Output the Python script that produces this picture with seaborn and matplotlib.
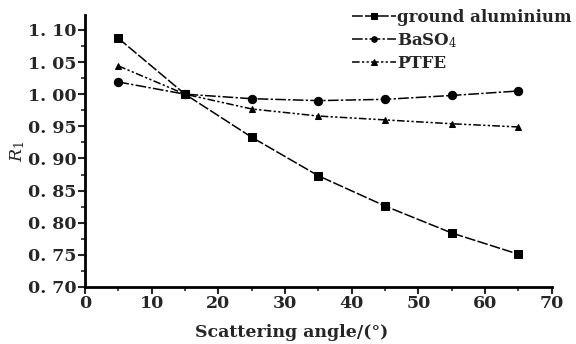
import matplotlib
matplotlib.use("Agg")
import matplotlib.pyplot as plt
import seaborn as sns
import pandas as pd
from matplotlib.ticker import MultipleLocator, FuncFormatter

angles = [5, 15, 25, 35, 45, 55, 65]
aluminium = [1.087, 1.000, 0.933, 0.873, 0.826, 0.784, 0.751]
baso4 = [1.019, 1.000, 0.993, 0.990, 0.992, 0.998, 1.005]
ptfe = [1.044, 1.000, 0.977, 0.966, 0.960, 0.954, 0.949]
series_names = ["ground aluminium", "BaSO$_4$", "PTFE"]

sns.set_theme(style="ticks")
plt.rcParams["font.family"] = ["DejaVu Serif"]
plt.rcParams["mathtext.fontset"] = "dejavuserif"

fig = plt.figure(figsize=(5.76, 3.44), dpi=100)
ax = fig.add_axes([0.1476, 0.1657, 0.958 - 0.1476, 0.956 - 0.1657])

styles = [
    dict(marker="s", ms=6, dashes=(7, 1.5)),
    dict(marker="o", ms=6, dashes=(7, 1.5, 1.5, 1.5)),
    dict(marker="^", ms=5, dashes=(5, 1.5, 1.5, 1.5, 1.5, 1.5)),
]
for name, vals, st in zip(series_names, [aluminium, baso4, ptfe], styles):
    df = pd.DataFrame({"angle": angles, "R": vals})
    sns.lineplot(data=df, x="angle", y="R", ax=ax, color="black", lw=1.1,
                 marker=st["marker"], markersize=st["ms"], markeredgecolor="black",
                 label=name, legend=False)
    ax.lines[-1].set_dashes(st["dashes"])

ax.set_xlim(0, 70)
ax.set_ylim(0.70, 1.123)
ax.xaxis.set_major_locator(MultipleLocator(10))
ax.xaxis.set_minor_locator(MultipleLocator(5))
ax.yaxis.set_major_locator(MultipleLocator(0.05))
ax.yaxis.set_minor_locator(MultipleLocator(0.025))
ax.yaxis.set_major_formatter(FuncFormatter(lambda v, p: f"{v:.2f}".replace(".", ". ")))
ax.tick_params(which="major", direction="out", length=5, width=1.5, labelsize=12.5, pad=1)
ax.tick_params(which="minor", direction="out", length=3, width=1.2)
for lab in ax.get_xticklabels() + ax.get_yticklabels():
    lab.set_fontweight("bold")
for s in ["top", "right"]:
    ax.spines[s].set_visible(False)
for s in ["left", "bottom"]:
    ax.spines[s].set_linewidth(2)
    ax.spines[s].set_color("black")

ax.set_xlabel("Scattering angle/(°)", fontsize=12.5, fontweight="bold")
ax.xaxis.set_label_coords(0.443, -0.135)
ax.set_ylabel("$\\mathit{R}_1$", fontsize=12.5, labelpad=1)

leg = ax.legend(loc="upper right", bbox_to_anchor=(1.0, 0.985), bbox_transform=fig.transFigure,
                frameon=False, fontsize=12, handlelength=2.6, handletextpad=0.1,
                labelspacing=0.3, borderpad=0.15, borderaxespad=0.1)
for t in leg.get_texts():
    t.set_fontweight("bold")
for h in leg.legend_handles:
    h.set_markersize(4)

fig.savefig("out.png", dpi=100)
